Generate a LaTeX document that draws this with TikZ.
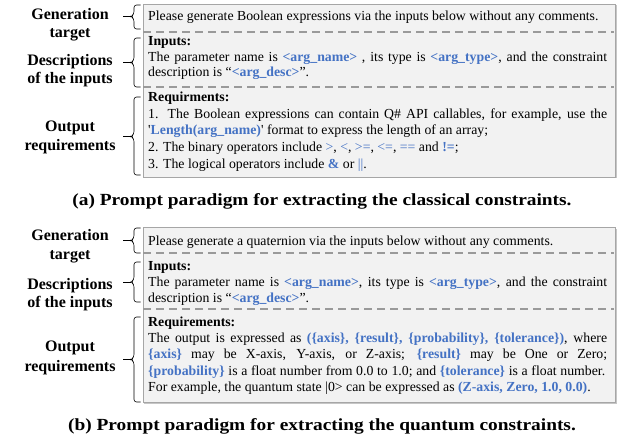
\documentclass[tikz,border=0pt]{standalone}
\usepackage{fontspec}
\setmainfont{Liberation Serif}
\usetikzlibrary{shadows}
\definecolor{kwblue}{HTML}{4472C4}
\definecolor{boxfill}{HTML}{F2F2F2}
\definecolor{boxline}{HTML}{A6A6A6}
\definecolor{dashgray}{HTML}{9A9A9A}
\newcommand\kwb[1]{\textcolor{kwblue}{\textbf{#1}}}
\newcommand\kwn[1]{\textcolor{kwblue}{#1}}
\newcommand\jline[1]{\makebox[459pt][s]{#1}}
% bracket-like brace: top y, bottom y, tip y
\newcommand\sidebrace[3]{%
  \draw[bracestyle] (140.5,#1) -- (134,#1) -- (134,#3-2.5) -- (131,#3) -- (134,#3+2.5) -- (134,#2) -- (140.5,#2);
  \draw[tick] (131,#3) -- (122.5,#3);}
\begin{document}
\begin{tikzpicture}[x=1pt,y=-1pt,
 body/.style={anchor=base west, inner sep=0pt, font=\fontsize{13.8}{16}\selectfont},
 sidelabel/.style={anchor=base, inner sep=0pt, font=\fontsize{16}{19}\selectfont\bfseries},
 capt/.style={anchor=base, inner sep=0pt, font=\fontsize{17}{20}\selectfont\bfseries},
 promptbox/.style={draw=boxline, fill=boxfill, line width=0.6pt, anchor=north west, inner sep=0pt,
   drop shadow={shadow xshift=1.2pt, shadow yshift=-1.2pt, opacity=0.45, fill=black!50}},
 sepline/.style={draw=dashgray, line width=1.8pt, dash pattern=on 8pt off 5pt},
 bracestyle/.style={draw=black, line width=0.6pt, rounded corners=2.5pt},
 tick/.style={draw=black, line width=0.6pt},
]
\useasboundingbox (0,0) rectangle (628,438);

% ---------------- panel (a)
\node[promptbox, minimum width=472.5pt, minimum height=173pt] (boxA) at (142.5,4) {};
\draw[sepline] (143,31.7) -- (614,31.7);
\draw[sepline] (143,86.7) -- (614,86.7);

\node[body] (a1) at (148,20.3) {Please generate Boolean expressions via the inputs below without any comments.};
\node[body] (a2) at (148,46) {\textbf{Inputs:}};
\node[body] (a3) at (148,62) {\jline{The parameter name is \kwb{<arg\_name>} , its type is \kwb{<arg\_type>}, and the constraint}};
\node[body] (a4) at (148,77) {description is “\kwb{<arg\_desc>}”.};
\node[body] (a5) at (148,101.7) {\textbf{Requirments:}};
\node[body] (a6) at (148,118.3) {\jline{1. The Boolean expressions can contain Q\# API callables, for example, use the}};
\node[body] (a7) at (148,135) {\textquotesingle\kwb{Length(arg\_name)}\textquotesingle{} format to express the length of an array;};
\node[body] (a8) at (148,151.7) {2. The binary operators include \kwn{>}, \kwn{<}, \kwn{>=}, \kwn{<=}, \kwn{==} and \kwb{!=};};
\node[body] (a9) at (148,168.3) {3. The logical operators include \kwb{\&} or \kwn{||}.};

\node[sidelabel] (la1) at (70,19.3) {Generation};
\node[sidelabel] (la2) at (70,37.5) {target};
\node[sidelabel] (la3) at (70,65.7) {Descriptions};
\node[sidelabel] (la4) at (70,84) {of the inputs};
\node[sidelabel] (la5) at (70,131.7) {Output};
\node[sidelabel] (la6) at (70,151) {requirements};

\sidebrace{5}{29}{16.5}
\sidebrace{38}{87}{62.5}
\sidebrace{97}{175}{136.5}

\node[capt] (capA) at (322,205) {\scalebox{1.14}[1]{(a) Prompt paradigm for extracting the classical constraints.}};

% ---------------- panel (b)
\node[promptbox, minimum width=472.5pt, minimum height=175pt] (boxB) at (142.5,227) {};
\draw[sepline] (143,253) -- (614,253);
\draw[sepline] (143,309) -- (614,309);

\node[body] (b1) at (148,245.7) {Please generate a quaternion via the inputs below without any comments.};
\node[body] (b2) at (148,270) {\textbf{Inputs:}};
\node[body] (b3) at (148,286) {\jline{The parameter name is \kwb{<arg\_name>}, its type is \kwb{<arg\_type>}, and the constraint}};
\node[body] (b4) at (148,302) {description is “\kwb{<arg\_desc>}”.};
\node[body] (b5) at (148,326.7) {\textbf{Requirements:}};
\node[body] (b6) at (148,342.3) {\jline{The output is expressed as \kwb{(\{axis\}, \{result\}, \{probability\}, \{tolerance\})}, where}};
\node[body] (b7) at (148,358.7) {\jline{\kwb{\{axis\}} may be X-axis, Y-axis, or Z-axis; \kwb{\{result\}} may be One or Zero;}};
\node[body] (b8) at (148,375) {\makebox[457pt][s]{\kwb{\{probability\}} is a float number from 0.0 to 1.0; and \kwb{\{tolerance\}} is a float number.}};
\node[body] (b9) at (148,391.7) {For example, the quantum state |0> can be expressed as \kwb{(Z-axis, Zero, 1.0, 0.0)}.};

\node[sidelabel] (lb1) at (70,240) {Generation};
\node[sidelabel] (lb2) at (70,259.3) {target};
\node[sidelabel] (lb3) at (70,289) {Descriptions};
\node[sidelabel] (lb4) at (70,307.7) {of the inputs};
\node[sidelabel] (lb5) at (70,351.7) {Output};
\node[sidelabel] (lb6) at (70,371) {requirements};

\sidebrace{228}{253}{240.5}
\sidebrace{262}{302}{282}
\sidebrace{317}{402}{359.5}

\node[capt] (capB) at (322,430) {\scalebox{1.14}[1]{(b) Prompt paradigm for extracting the quantum constraints.}};
\end{tikzpicture}
\end{document}
